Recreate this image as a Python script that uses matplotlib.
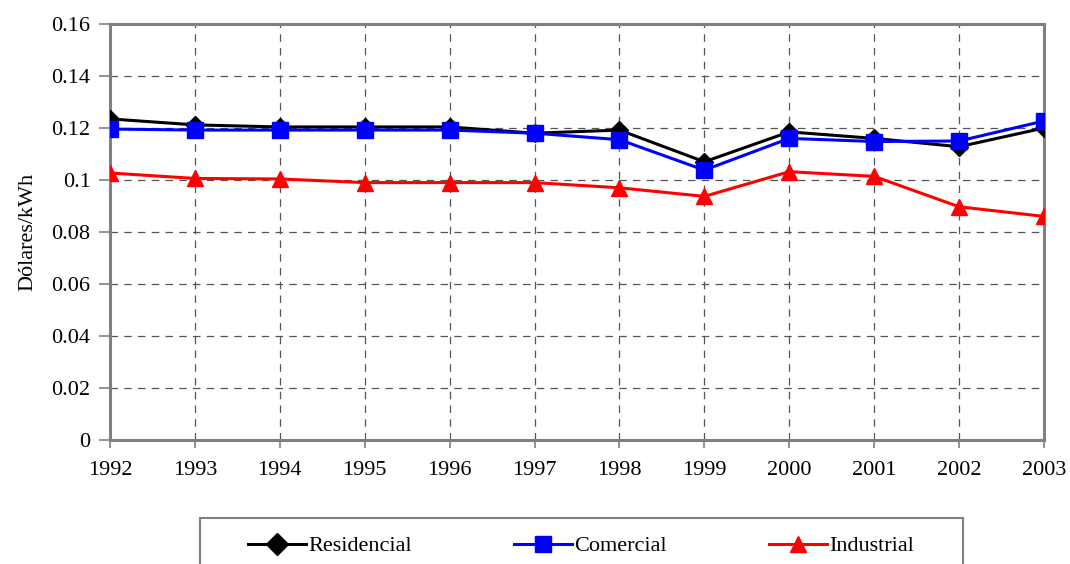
import matplotlib
matplotlib.use("Agg")
import matplotlib.pyplot as plt
from matplotlib.patches import Rectangle

years = [1992, 1993, 1994, 1995, 1996, 1997, 1998, 1999, 2000, 2001, 2002, 2003]
residencial = [0.1235, 0.1212, 0.1204, 0.1204, 0.1204, 0.1180, 0.1192, 0.1070, 0.1185, 0.1160, 0.1128, 0.1200]
comercial = [0.1196, 0.1192, 0.1192, 0.1192, 0.1192, 0.1180, 0.1155, 0.1038, 0.1160, 0.1148, 0.1150, 0.1227]
industrial = [0.1027, 0.1006, 0.1004, 0.0990, 0.0990, 0.0990, 0.0970, 0.0937, 0.1032, 0.1014, 0.0897, 0.0860]
y_ticks = [0, 0.02, 0.04, 0.06, 0.08, 0.1, 0.12, 0.14, 0.16]
y_labels = ["0", "0.02", "0.04", "0.06", "0.08", "0.1", "0.12", "0.14", "0.16"]

plt.rcParams["font.family"] = ["Liberation Serif", "DejaVu Serif"]

W, H = 1070, 564
fig = plt.figure(figsize=(W / 100, H / 100), dpi=100)
ax = fig.add_axes([110 / W, 124 / H, 934 / W, 416 / H])

ax.plot(years, residencial, color="black", lw=2.2, marker="D", ms=9, label="Residencial", zorder=3)
ax.plot(years, comercial, color="#0000ff", lw=2.2, marker="s", ms=11, label="Comercial", zorder=4)
ax.plot(years, industrial, color="#ff0000", lw=2.2, marker="^", ms=12, label="Industrial", zorder=3)

ax.set_xlim(1992, 2003)
ax.set_ylim(0, 0.16)
ax.set_xticks(years)
ax.set_xticklabels([str(y) for y in years])
ax.set_yticks(y_ticks)
ax.set_yticklabels(y_labels)
ax.tick_params(axis="both", labelsize=16, color="#808080", width=1.2, direction="out")
ax.tick_params(axis="y", length=8, pad=6)
ax.tick_params(axis="x", length=6, pad=9)

ax.grid(True, color="#555555", ls=(0, (6, 5)), lw=0.9)
ax.set_axisbelow(True)
for sp in ax.spines.values():
    sp.set_color("#808080")
    sp.set_linewidth(2.2)

ax.set_ylabel("Dólares/kWh", fontsize=16, labelpad=10)

# Legend box below the plot
fig.add_artist(Rectangle((200 / W, -0.05), 763 / W, 0.05 + 46 / H,
                         transform=fig.transFigure, facecolor="white",
                         edgecolor="#808080", lw=1.5))
leg = fig.legend(loc="center", bbox_to_anchor=(581 / W, 18 / H), ncol=3,
                 fontsize=16, frameon=False,
                 columnspacing=4.6, handlelength=2.6, handletextpad=0.1)
for h in leg.legend_handles:
    h.set_markersize(11)

fig.savefig("out.png", dpi=100)
